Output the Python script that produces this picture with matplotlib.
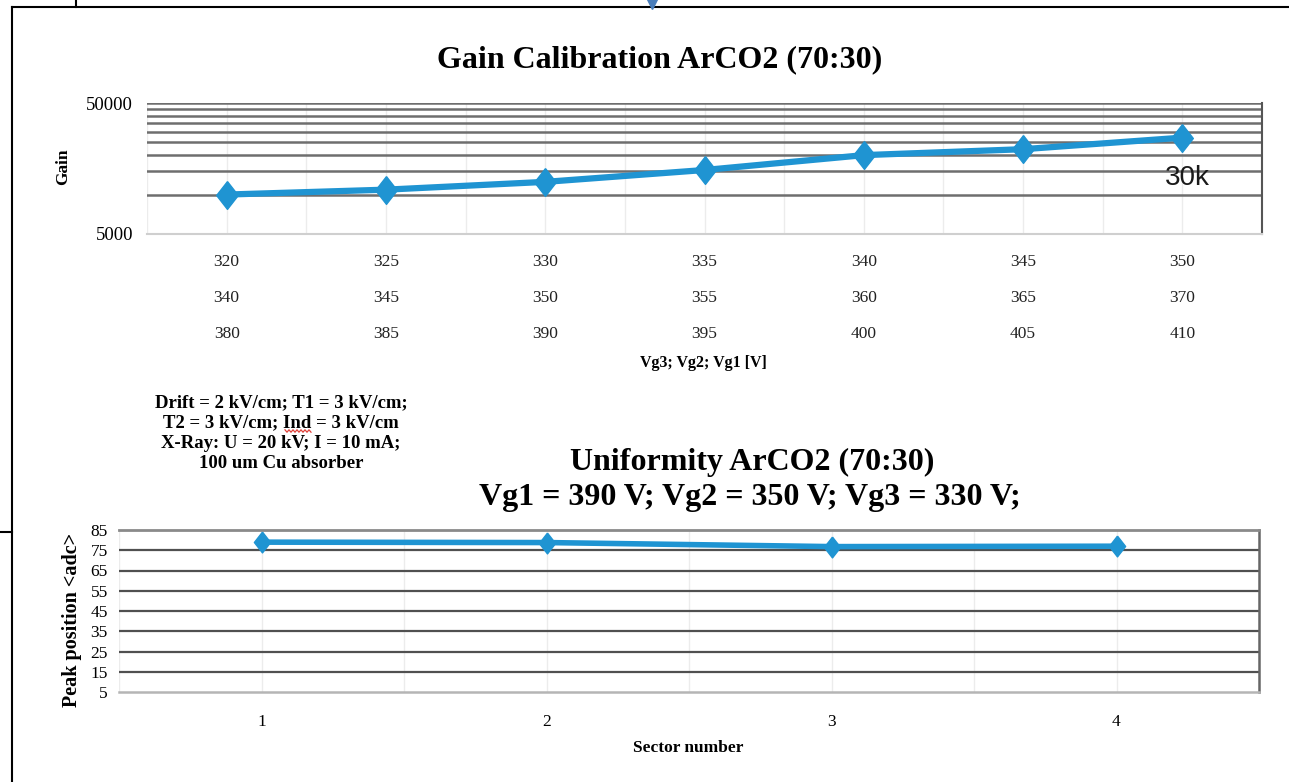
import numpy as np
import matplotlib.pyplot as plt
from matplotlib.lines import Line2D
from matplotlib.ticker import FixedLocator, NullFormatter, FixedFormatter
from matplotlib.transforms import blended_transform_factory

# ---------------------------------------------------------------------
# Data
# ---------------------------------------------------------------------

# GEM voltage settings for each gain point (three rows under the x axis)
vg3 = [320, 325, 330, 335, 340, 345, 350]
vg2 = [340, 345, 350, 355, 360, 365, 370]
vg1 = [380, 385, 390, 395, 400, 405, 410]

# effective gain
gain = [10000, 10900, 12500, 15400, 20000, 22200, 27200]

# peak position of the Cu line per readout sector
sectors = ["1", "2", "3", "4"]
peak_adc = [79.0, 78.8, 76.8, 77.0]

BLUE = "#1f94d2"
GRID = "#6e6e6e"
SERIF = ["Liberation Serif", "DejaVu Serif"]

plt.rcParams["font.family"] = SERIF

W, H = 1289, 782
fig = plt.figure(figsize=(W / 100, H / 100), dpi=100)


def fx(px):
    return px / W


def fy(py):
    return 1 - py / H


# elongated diamond marker
diamond = [(0, 1), (0.78, 0), (0, -1), (-0.78, 0), (0, 1)]

# ---------------------------------------------------------------------
# Gain calibration (log scale)
# ---------------------------------------------------------------------

ax1 = fig.add_axes([fx(147), fy(234), fx(1262) - fx(147), fy(103) - fy(234)])
x1 = np.arange(len(gain))

ax1.set_yscale("log")
ax1.set_ylim(5000, 50000)
ax1.set_xlim(-0.5, len(gain) - 0.5)

ax1.yaxis.set_major_locator(FixedLocator([5000, 50000]))
ax1.yaxis.set_major_formatter(FixedFormatter(["5000", "50000"]))
ax1.yaxis.set_minor_locator(FixedLocator(np.arange(10000, 50001, 5000)))
ax1.yaxis.set_minor_formatter(NullFormatter())
ax1.tick_params(axis="y", which="both", length=0, pad=10, labelsize=13.5)
ax1.set_xticks([])

for v in np.arange(10000, 50001, 5000):
    ax1.axhline(v, color=GRID, lw=1.8, zorder=1)
for xv in np.arange(-0.5, len(gain), 0.5):
    ax1.axvline(xv, color="#ececec", lw=1.0, zorder=0)

for side in ["left", "top"]:
    ax1.spines[side].set_visible(False)
ax1.spines["bottom"].set_color("#cfcfcf")
ax1.spines["bottom"].set_linewidth(1.5)
ax1.spines["right"].set_color("#555555")
ax1.spines["right"].set_linewidth(1.5)

ax1.plot(x1, gain, color=BLUE, lw=4.5, marker=diamond, ms=20,
         solid_capstyle="round", zorder=3, clip_on=False)

ax1.annotate("30k", xy=(x1[-1], gain[-1]), xytext=(5, -40),
             textcoords="offset pixels", ha="center", va="center",
             fontsize=20, family=["Liberation Sans", "DejaVu Sans"],
             color="#1a1a1a")

# three-row voltage labels below the axis
tr = blended_transform_factory(ax1.transData, fig.transFigure)
for row, ypx in zip([vg3, vg2, vg1], [262, 298, 334]):
    for i, v in enumerate(row):
        ax1.text(i, fy(ypx), str(v), transform=tr, ha="center", va="center",
                 fontsize=12.5, color="#222222")
for xb in np.arange(0.5, len(gain) - 0.5, 1):
    ax1.add_artist(Line2D([xb, xb], [fy(240), fy(352)], transform=tr,
                          color="#f2f2f2", lw=1.0))

fig.text(fx(703), fy(363), "Vg3; Vg2; Vg1 [V]", ha="center", va="center",
         fontsize=11.5, fontweight="bold")
fig.text(fx(63), fy(167), "Gain", ha="center", va="center", rotation=90,
         fontsize=12.5, fontweight="bold")
fig.text(fx(660), fy(60), "Gain Calibration ArCO2 (70:30)", ha="center",
         va="center", fontsize=23, fontweight="bold")

# operating conditions
fig.text(fx(281), fy(433),
         "Drift = 2 kV/cm; T1 = 3 kV/cm;\nT2 = 3 kV/cm; Ind = 3 kV/cm\n"
         "X-Ray: U = 20 kV; I = 10 mA;\n100 um Cu absorber",
         ha="center", va="center", fontsize=13.5, fontweight="bold",
         linespacing=1.25)

# spell-check squiggle under "Ind"
wx = np.linspace(285, 311, 14)
wy = 431 + np.where(np.arange(14) % 2 == 0, -1.2, 1.2)
fig.add_artist(Line2D(fx(wx), fy(wy), transform=fig.transFigure,
                      color="#e0413a", lw=0.9))

# ---------------------------------------------------------------------
# Uniformity across sectors
# ---------------------------------------------------------------------

ax2 = fig.add_axes([fx(119), fy(692), fx(1259) - fx(119), fy(530) - fy(692)])
x2 = np.arange(len(peak_adc))

ax2.set_ylim(5, 85)
ax2.set_xlim(-0.5, len(peak_adc) - 0.5)
ax2.set_yticks(np.arange(5, 86, 10))
ax2.set_xticks(x2)
ax2.set_xticklabels(sectors)
ax2.tick_params(axis="y", length=0, pad=8, labelsize=12.5)
ax2.tick_params(axis="x", length=0, pad=16, labelsize=12.5)

for v in np.arange(15, 85, 10):
    ax2.axhline(v, color="#505050", lw=1.6, zorder=1)
for xv in np.arange(-0.5, len(peak_adc), 0.5):
    ax2.axvline(xv, color="#ececec", lw=1.0, zorder=0)

ax2.spines["left"].set_visible(False)
ax2.spines["top"].set_color("#8a8a8a")
ax2.spines["top"].set_linewidth(2.0)
ax2.spines["bottom"].set_color("#b5b5b5")
ax2.spines["bottom"].set_linewidth(1.8)
ax2.spines["right"].set_color("#666666")
ax2.spines["right"].set_linewidth(1.8)

ax2.plot(x2, peak_adc, color=BLUE, lw=4.0, marker=diamond, ms=15,
         solid_capstyle="round", zorder=3, clip_on=False)

fig.text(fx(688), fy(748), "Sector number", ha="center", va="center",
         fontsize=12.5, fontweight="bold")
fig.text(fx(72), fy(620), "Peak position <adc>", ha="center", va="center",
         rotation=90, fontsize=14.5, fontweight="bold")
fig.text(fx(752), fy(462), "Uniformity ArCO2 (70:30)", ha="center",
         va="center", fontsize=23, fontweight="bold")
fig.text(fx(750), fy(497), "Vg1 = 390 V; Vg2 = 350 V; Vg3 = 330 V;",
         ha="center", va="center", fontsize=23, fontweight="bold")

# ---------------------------------------------------------------------
# Page frame
# ---------------------------------------------------------------------

frame = dict(transform=fig.transFigure, color="black", lw=1.5)
fig.add_artist(Line2D([fx(12), 1], [fy(7), fy(7)], **frame))
fig.add_artist(Line2D([fx(12), fx(12)], [0, fy(7)], **frame))
fig.add_artist(Line2D([fx(76), fx(76)], [fy(7), 1], **frame))
fig.add_artist(Line2D([0, fx(12)], [fy(532), fy(532)], **frame))
fig.add_artist(Line2D([fx(652)], [fy(3)], transform=fig.transFigure,
                      marker="v", ms=9, color="#4a7ebb", ls="none"))

plt.savefig("out.png", dpi=100)
